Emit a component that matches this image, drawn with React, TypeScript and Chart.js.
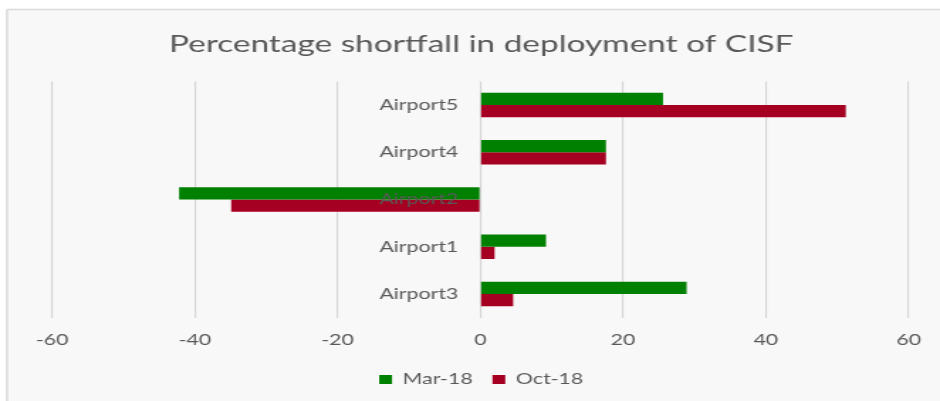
import React, { useEffect, useRef } from "react";
import { Chart, registerables } from "chart.js";

Chart.register(...registerables);

// ---- data ----
const categories = ["Airport5", "Airport4", "Airport2", "Airport1", "Airport3"];
const seriesNames = ["Mar-18", "Oct-18"];
const mar18 = [25.6, 17.6, -42.2, 9.2, 28.9];
const oct18 = [51.2, 17.6, -34.9, 2.0, 4.6];
const xTicks = [-60, -40, -20, 0, 20, 40, 60];
const titleText = "Percentage shortfall in deployment of CISF";

// ---- look ----
const CSS_W = 940;
const CSS_H = 401;
const SX = 1.42; // horizontal stretch of the reference picture
const CW = Math.round(CSS_W / SX);
const FONT = "Lato";
const TEXT = "#595959";
const GREEN = "#008000";
const RED = "#a50021";

const backgroundPlugin = {
  id: "bgBorder",
  beforeDraw(chart: any) {
    const { ctx, width, height } = chart;
    ctx.save();
    ctx.fillStyle = "#ffffff";
    ctx.fillRect(0, 0, width, height);
    const bx = 7 / SX;
    ctx.fillStyle = "#f8f8f8";
    ctx.fillRect(bx, 9, width - bx, height - 9);
    ctx.strokeStyle = "#d9d9d9";
    ctx.lineWidth = 1.5;
    ctx.beginPath();
    ctx.moveTo(bx, 9.5);
    ctx.lineTo(width, 9.5);
    ctx.moveTo(bx, 9.5);
    ctx.lineTo(bx, height);
    ctx.stroke();
    ctx.restore();
  },
};

const categoryLabelPlugin = {
  id: "catLabels",
  afterDatasetsDraw(chart: any) {
    const { ctx } = chart;
    const xs = chart.scales.x;
    const ys = chart.scales.y;
    const x0 = xs.getPixelForValue(0) - 15.5;
    ctx.save();
    ctx.font = `15px ${FONT}`;
    ctx.fillStyle = TEXT;
    ctx.textAlign = "right";
    ctx.textBaseline = "middle";
    categories.forEach((c, i) => {
      ctx.fillText(c, x0, ys.getPixelForValue(i));
    });
    ctx.restore();
  },
};

export default function App() {
  const ref = useRef<HTMLCanvasElement | null>(null);

  useEffect(() => {
    if (!ref.current) return;
    const chart = new Chart(ref.current, {
      type: "bar",
      data: {
        labels: categories,
        datasets: [
          {
            label: seriesNames[0],
            data: mar18,
            backgroundColor: GREEN,
            borderWidth: 0,
            barPercentage: 1,
            categoryPercentage: 0.52,
          },
          {
            label: seriesNames[1],
            data: oct18,
            backgroundColor: RED,
            borderWidth: 0,
            barPercentage: 1,
            categoryPercentage: 0.52,
          },
        ],
      },
      options: {
        indexAxis: "y",
        responsive: false,
        maintainAspectRatio: false,
        animation: false,
        devicePixelRatio: 1,
        layout: {
          padding: { left: 52 / SX, right: CW - 910.5 / SX, top: 0, bottom: 4 },
        },
        scales: {
          x: {
            type: "linear",
            min: -60,
            max: 60,
            afterBuildTicks: (s: any) => {
              s.ticks = xTicks.map((v) => ({ value: v }));
            },
            afterFit: (s: any) => {
              s.height = 40.4;
            },
            grid: { color: "#d6d6d6", lineWidth: 1.1, drawTicks: false },
            border: { display: false },
            ticks: {
              color: TEXT,
              padding: 13.4,
              font: { family: FONT, size: 15, lineHeight: 1.2 },
            },
          },
          y: {
            type: "category",
            display: false,
          },
        },
        plugins: {
          title: {
            display: true,
            text: titleText,
            color: TEXT,
            font: { family: FONT, size: 23.5, weight: "normal", lineHeight: 1.2 },
            padding: { top: 30, bottom: 23.2 },
          },
          legend: {
            display: true,
            position: "bottom",
            labels: {
              boxWidth: 9,
              boxHeight: 9,
              padding: 14,
              color: TEXT,
              font: { family: FONT, size: 15 },
            },
          },
          tooltip: { enabled: false },
        },
      },
      plugins: [backgroundPlugin, categoryLabelPlugin],
    });
    return () => chart.destroy();
  }, []);

  return (
    <div style={{ position: "fixed", left: 0, top: 0, width: CSS_W, height: CSS_H }}>
      <canvas
        ref={ref}
        width={CW}
        height={CSS_H}
        style={{ width: `${CSS_W}px`, height: `${CSS_H}px`, display: "block" }}
      />
    </div>
  );
}
